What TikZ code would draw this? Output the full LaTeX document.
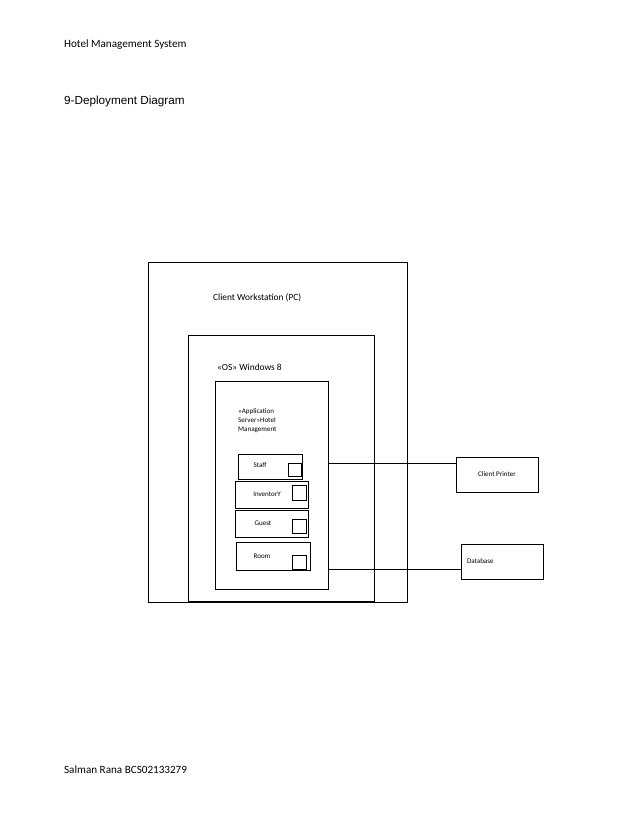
\documentclass[tikz,border=0pt]{standalone}
\usepackage{fontspec}
\setmainfont{Carlito}
\newfontfamily\arialfont{Liberation Sans}
\begin{document}
\begin{tikzpicture}[
    x=0.03cm, y=-0.03cm,
    % Styles
    box/.style={draw, thick, inner sep=0pt},
    compbox/.style={draw, thick, inner sep=0pt},
    tag/.style={font=\fontsize{8}{10}\selectfont, anchor=west},
    small/.style={font=\fontsize{6}{8}\selectfont},
    conn/.style={thick}
]
    \useasboundingbox (0,0) rectangle (638,826);

    % --- Page texts ---
    \node[anchor=west, font=\fontsize{9.5}{11}\selectfont] (head) at (60,45) {Hotel Management System};
    \node[anchor=west, font=\arialfont\fontsize{10}{12}\selectfont] (title) at (60,101) {9-Deployment Diagram};
    \node[anchor=west, font=\fontsize{9.5}{11}\selectfont] (foot) at (60,770) {Salman Rana BCS02133279};

    % --- Nodes ---
    \draw[box] (148,262) rectangle (407,602);
    \node[tag] (pc) at (209,298) {Client Workstation (PC)};
    \draw[box] (188,335) rectangle (374,601);
    \node[tag] (os) at (213,367) {<<OS>> Windows 8};
    \draw[box] (215,381) rectangle (328,589);
    \node[small, anchor=north west, align=left, inner sep=0pt] (app) at (238,408)
        {<<Application\\Server>>Hotel\\Management};

    % --- Components ---
    \draw[compbox] (238,454) rectangle (302,479);
    \node[small] (staff) at (260,465) {Staff};
    \draw[compbox] (288,463) rectangle (301,476);
    \draw[compbox] (235,481) rectangle (308,508);
    \node[small] (inv) at (267,494) {InventorY};
    \draw[compbox] (292,485) rectangle (306,500);
    \draw[compbox] (235,510) rectangle (308,537);
    \node[small] (guest) at (263,523) {Guest};
    \draw[compbox] (292,519) rectangle (306,533);
    \draw[compbox] (236,542) rectangle (310,570);
    \draw[compbox] (292,555) rectangle (306,569);
    \node[small] (room) at (262,556) {Room};

    % --- External devices ---
    \node[box, small, minimum width=82*0.03cm, minimum height=35*0.03cm] (printer) at (497,474.5) {Client Printer};
    \node[box, small, minimum width=82*0.03cm, minimum height=35*0.03cm, text width=70*0.03cm, align=left] (db) at (502,561.5) {Database};

    \coordinate (s1) at (329,463);
    \coordinate (s2) at (328,569);
    \draw[conn] (s1) -- (printer.west |- s1);
    \draw[conn] (s2) -- (db.west |- s2);
\end{tikzpicture}
\end{document}
